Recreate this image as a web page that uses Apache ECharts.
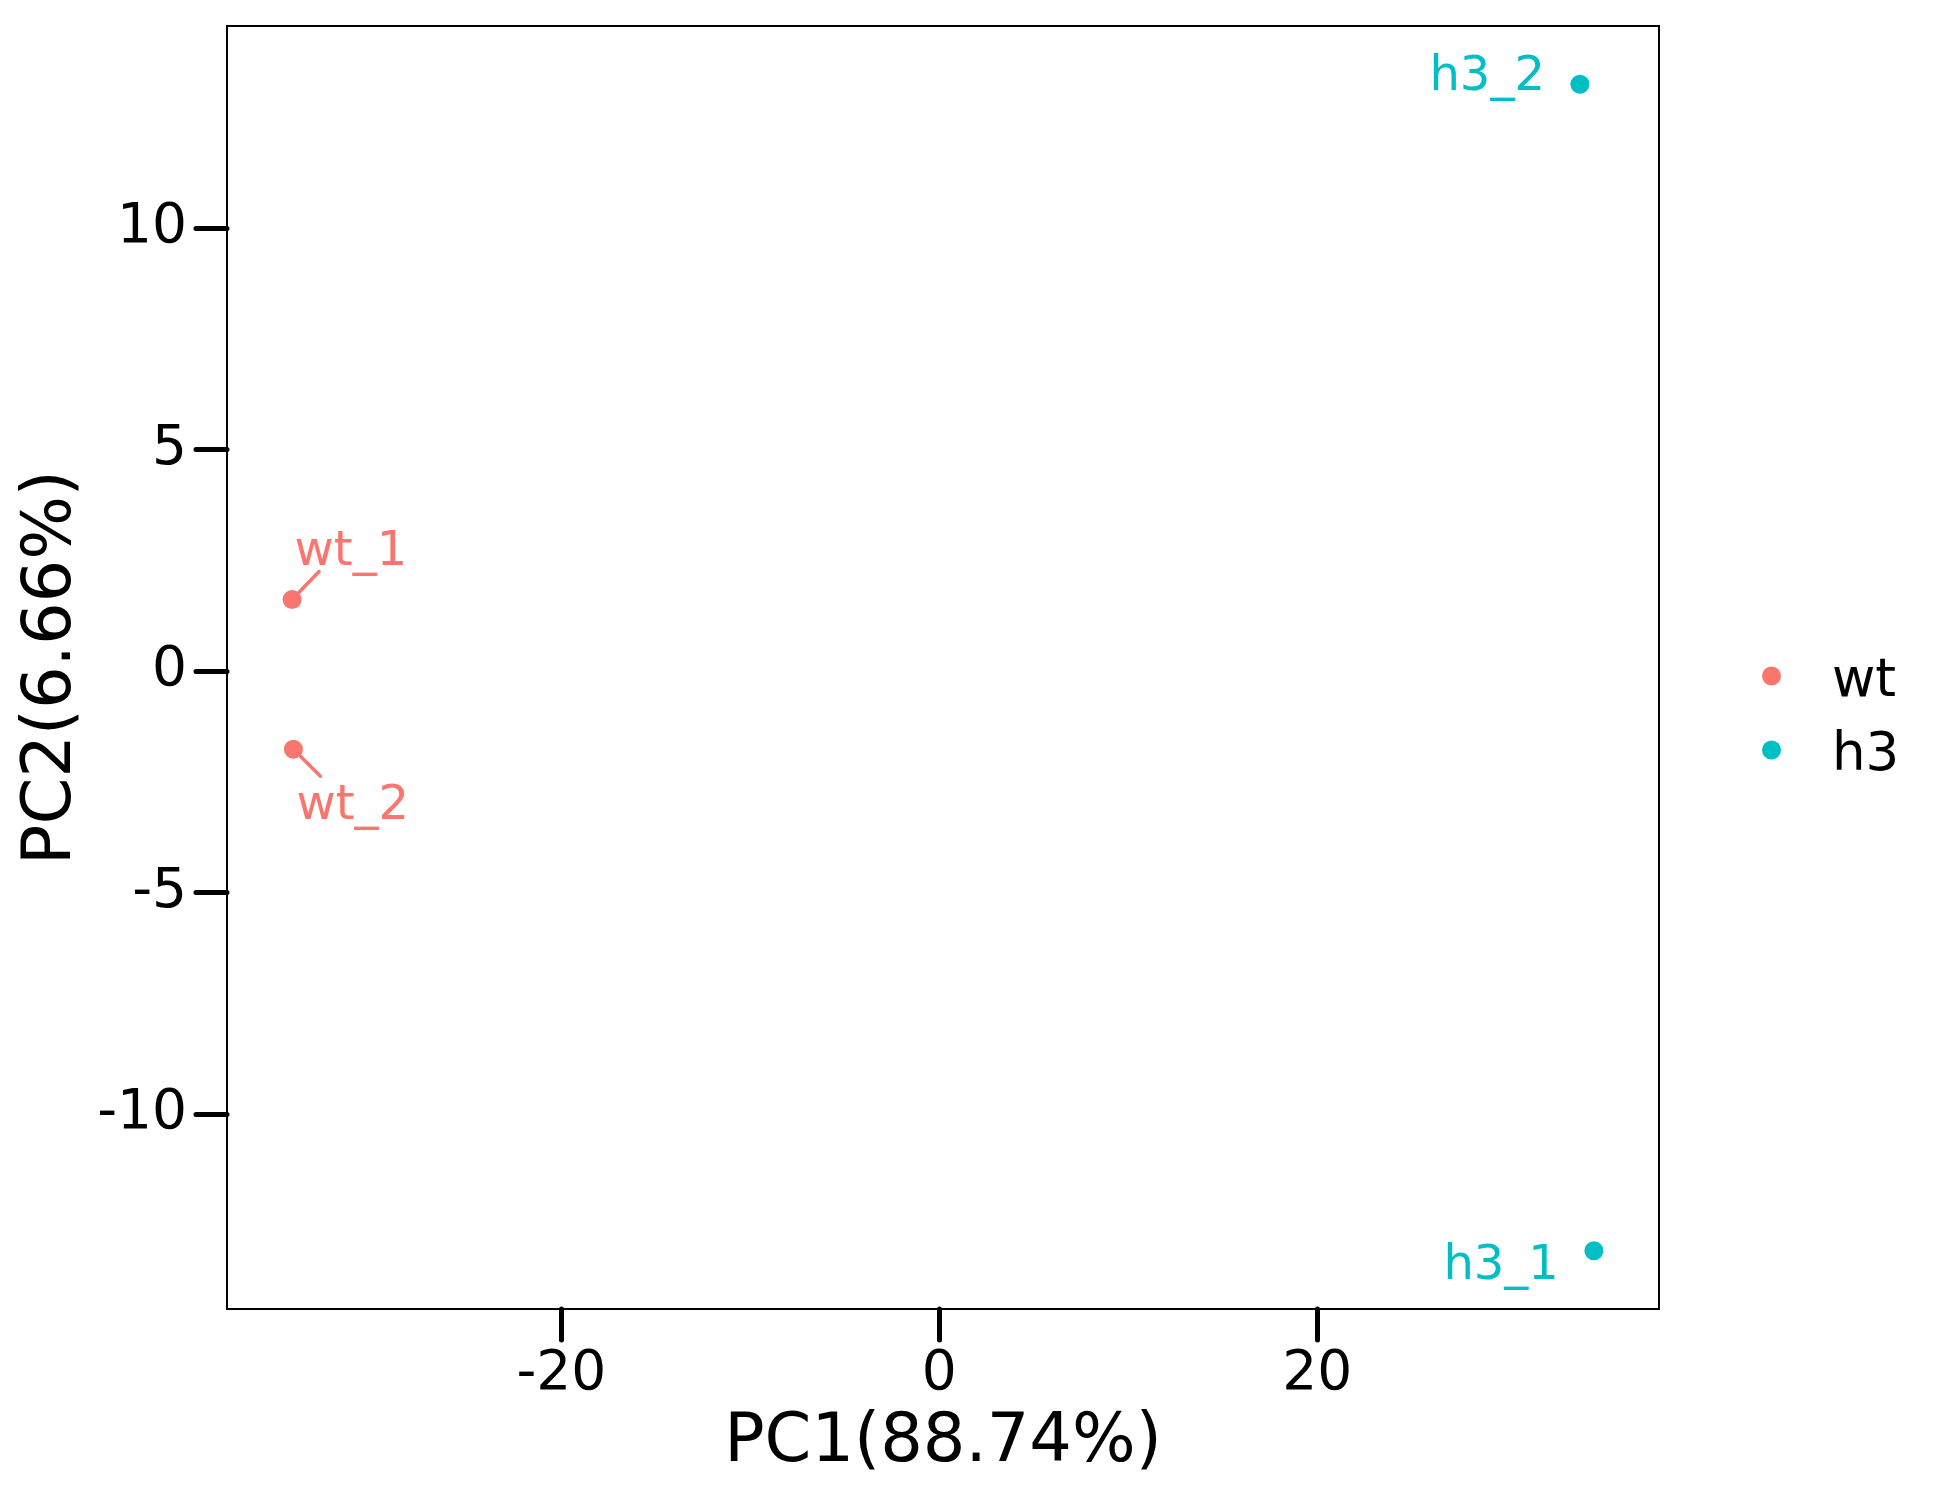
<!DOCTYPE html>
<html>
<head>
<meta charset="utf-8">
<script src="https://cdn.jsdelivr.net/npm/echarts@6/dist/echarts.min.js"></script>
<style>html,body{margin:0;padding:0;background:#fff}#c{width:1950px;height:1500px}</style>
</head>
<body>
<div id="c"></div>
<script>
// ---- data ----
const samples = ['wt_1', 'wt_2', 'h3_1', 'h3_2'];
const groups = ['wt', 'wt', 'h3', 'h3'];
const pc1 = [-34.25, -34.18, 34.64, 33.90];
const pc2 = [1.61, -1.77, -13.09, 13.24];
const groupNames = ['wt', 'h3'];
const xTicks = [-20, 0, 20];
const yTicks = [-10, -5, 0, 5, 10];
const xTitle = 'PC1(88.74%)';
const yTitle = 'PC2(6.66%)';

// ---- styles ----
const groupColors = { wt: '#F8766D', h3: '#00BFC4' };
const FONT = 'DejaVu Sans';
// repel-like label placement (pixels, relative to the point)
const labelStyle = {
  wt_1: { align: 'left', dx: 2.5, dy: -47, seg: [27, -28] },
  wt_2: { align: 'left', dx: 3, dy: 57, seg: [27, 27] },
  h3_1: { align: 'right', dx: -35, dy: 15.5 },
  h3_2: { align: 'right', dx: -35, dy: -6.5 }
};

function expand(arr) {
  const mn = Math.min(...arr), mx = Math.max(...arr), r = mx - mn;
  return [mn - 0.05 * r, mx + 0.05 * r];
}
const xr = expand(pc1), yr = expand(pc2);

const series = groupNames.map(g => ({
  name: g,
  type: 'scatter',
  symbol: 'circle',
  symbolSize: 19,
  itemStyle: { color: groupColors[g], opacity: 1 },
  z: 3,
  data: samples.map((s, i) => ({ s, i })).filter(o => groups[o.i] === g).map(o => {
    const ls = labelStyle[o.s];
    return {
      name: o.s,
      value: [pc1[o.i], pc2[o.i]],
      label: {
        show: true,
        formatter: o.s,
        position: 'inside',
        align: ls.align,
        verticalAlign: 'middle',
        offset: [ls.dx, ls.dy],
        color: groupColors[g],
        fontFamily: FONT,
        fontSize: 48
      }
    };
  })
}));

// segments for labels that were pushed away
const segIdx = samples.map((s, i) => i).filter(i => labelStyle[samples[i]].seg);
series.push({
  type: 'custom',
  silent: true,
  z: 2,
  data: segIdx.map(i => [pc1[i], pc2[i], i]),
  renderItem: function (params, api) {
    const p = api.coord([api.value(0), api.value(1)]);
    const i = api.value(2);
    const seg = labelStyle[samples[i]].seg;
    return {
      type: 'line',
      shape: { x1: p[0], y1: p[1], x2: p[0] + seg[0], y2: p[1] + seg[1] },
      style: { stroke: groupColors[groups[i]], lineWidth: 3.5, lineCap: 'round' }
    };
  }
});

const chart = echarts.init(document.getElementById('c'), null, { renderer: 'canvas' });
chart.setOption({
  animation: false,
  backgroundColor: '#fff',
  textStyle: { fontFamily: FONT },
  grid: {
    left: 227, top: 26, width: 1432, height: 1283,
    show: true, borderColor: '#000', borderWidth: 2, backgroundColor: 'transparent'
  },
  legend: {
    data: groupNames,
    orient: 'vertical',
    left: 1762,
    top: 643,
    padding: 0,
    icon: 'circle',
    itemWidth: 19,
    itemHeight: 19,
    itemGap: 8,
    formatter: function (n) { return '{t|' + n + '}'; },
    textStyle: {
      fontFamily: FONT, fontSize: 53, color: '#000', padding: [0, 0, 0, 46],
      rich: { t: { fontFamily: FONT, fontSize: 53, color: '#000', lineHeight: 53, padding: [13, 0, 0, 0] } }
    }
  },
  xAxis: {
    type: 'value',
    min: xr[0], max: xr[1],
    name: xTitle,
    nameLocation: 'middle',
    nameGap: 101,
    nameTextStyle: { fontFamily: FONT, fontSize: 67, color: '#000' },
    axisLine: { show: true, onZero: false, lineStyle: { color: '#000', width: 2 } },
    axisTick: { show: true, customValues: xTicks, length: 31, lineStyle: { color: '#000', width: 5, cap: 'round' } },
    axisLabel: { customValues: xTicks, margin: 38, fontFamily: FONT, fontSize: 55, color: '#000' },
    splitLine: { show: false }
  },
  yAxis: {
    type: 'value',
    min: yr[0], max: yr[1],
    name: yTitle,
    nameLocation: 'middle',
    nameGap: 134,
    nameTextStyle: { fontFamily: FONT, fontSize: 67, color: '#000' },
    axisLine: { show: true, onZero: false, lineStyle: { color: '#000', width: 2 } },
    axisTick: { show: true, customValues: yTicks, length: 31, lineStyle: { color: '#000', width: 5, cap: 'round' } },
    axisLabel: { customValues: yTicks, margin: 40, fontFamily: FONT, fontSize: 55, color: '#000', padding: [8, 0, 0, 0] },
    splitLine: { show: false }
  },
  series: series
});
</script>
</body>
</html>
